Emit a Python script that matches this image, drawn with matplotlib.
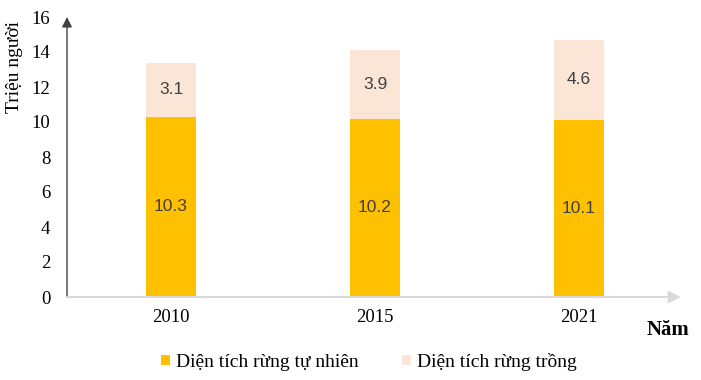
import matplotlib.pyplot as plt
import numpy as np

# data
years = ['2010', '2015', '2021']
tu_nhien = [10.3, 10.2, 10.1]
rung_trong = [3.1, 3.9, 4.6]

c_tn = '#FFC000'
c_rt = '#FBE5D6'
serif = 'Liberation Serif'

fig = plt.figure(figsize=(7.01, 3.80), dpi=100)
ax = fig.add_axes([67/701, 1-297/380, (670-67)/701, (297-17)/380])

x = np.arange(len(years))
w = 0.245
b1 = ax.bar(x, tu_nhien, w, color=c_tn, label='Diện tích rừng tự nhiên')
b2 = ax.bar(x, rung_trong, w, bottom=tu_nhien, color=c_rt, label='Diện tích rừng trồng')

# labels inside the bars
for i in range(len(years)):
    ax.text(x[i], tu_nhien[i] / 2, f'{tu_nhien[i]}', ha='center', va='center',
            fontsize=12.5, color='#404040', family='Liberation Sans')
    ax.text(x[i], tu_nhien[i] + rung_trong[i] / 2, f'{rung_trong[i]}', ha='center', va='center',
            fontsize=12.5, color='#404040', family='Liberation Sans')

ax.set_xlim(-0.51, 2.446)
ax.set_ylim(0, 16)
ax.set_yticks(range(0, 17, 2))
ax.set_xticks(x)
ax.set_xticklabels(years)
for lab in ax.get_xticklabels() + ax.get_yticklabels():
    lab.set_family(serif)
    lab.set_fontsize(13.5)
ax.tick_params(length=0)
ax.tick_params(axis='y', pad=12)
ax.tick_params(axis='x', pad=9)

for s in ['top', 'right', 'bottom', 'left']:
    ax.spines[s].set_visible(False)

# axes with arrows
ax.annotate('', xy=(0, 1.0), xytext=(0, 0), xycoords='axes fraction',
            arrowprops=dict(arrowstyle='-|>', color='#404040', lw=1.0, mutation_scale=15,
                            shrinkA=0, shrinkB=0), annotation_clip=False)
ax.annotate('', xy=(1.018, 0), xytext=(0, 0), xycoords='axes fraction',
            arrowprops=dict(arrowstyle='-|>', color='#D9D9D9', lw=1.5, mutation_scale=18,
                            shrinkA=0, shrinkB=0), annotation_clip=False)

fig.text(15/701, 1-67/380, 'Triệu người', rotation=90, ha='center', va='center',
         fontsize=14, family=serif)
fig.text(668/701, 1-330/380, 'Năm', ha='center', va='center', fontsize=15,
         fontweight='bold', family=serif)

leg = fig.legend(handles=[b1, b2], loc='center', bbox_to_anchor=(369/701, 1-362/380),
                 ncol=2, frameon=False, prop={'family': serif, 'size': 14},
                 handlelength=0.45, handleheight=0.45, handletextpad=0.35, columnspacing=2.2)

fig.savefig('out.png', dpi=100)
